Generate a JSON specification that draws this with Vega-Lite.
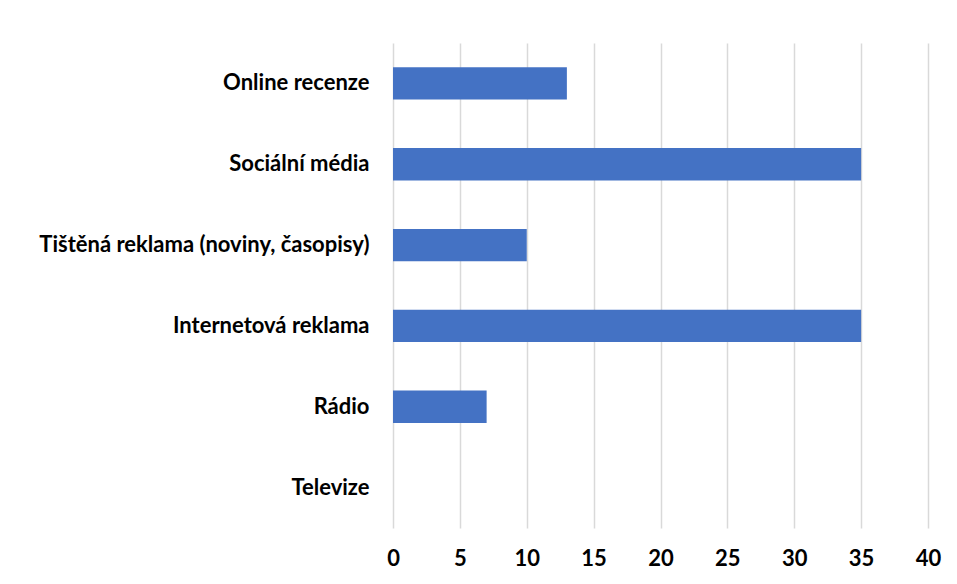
{
  "$schema": "https://vega.github.io/schema/vega-lite/v6.json",
  "autosize": "none",
  "width": 535,
  "height": 485,
  "padding": {"left": 393, "top": 43, "right": 29, "bottom": 56},
  "background": "white",
  "data": {"values": [
    {"kanal": "Online recenze", "hodnota": 13},
    {"kanal": "Sociální média", "hodnota": 35},
    {"kanal": "Tištěná reklama (noviny, časopisy)", "hodnota": 10},
    {"kanal": "Internetová reklama", "hodnota": 35},
    {"kanal": "Rádio", "hodnota": 7},
    {"kanal": "Televize", "hodnota": 0}
  ]},
  "mark": {"type": "bar", "color": "#4472c4"},
  "encoding": {
    "y": {"field": "kanal", "type": "nominal", "sort": null,
      "scale": {"paddingInner": 0.6, "paddingOuter": 0.3},
      "axis": {"title": null, "domain": false, "ticks": false, "labelPadding": 24,
        "labelFont": "Lato", "labelFontWeight": "bold", "labelFontSize": 22, "labelColor": "#000000", "labelLimit": 400}},
    "x": {"field": "hodnota", "type": "quantitative",
      "scale": {"domain": [0, 40], "nice": false},
      "axis": {"title": null, "values": [0,5,10,15,20,25,30,35,40], "domain": false, "ticks": false, "labelPadding": 20,
        "grid": true, "gridColor": "#d9d9d9", "gridWidth": 1.5,
        "labelFont": "Lato", "labelFontWeight": "bold", "labelFontSize": 22, "labelColor": "#000000", "labelFlush": false}}
  },
  "config": {"view": {"stroke": null}}
}
